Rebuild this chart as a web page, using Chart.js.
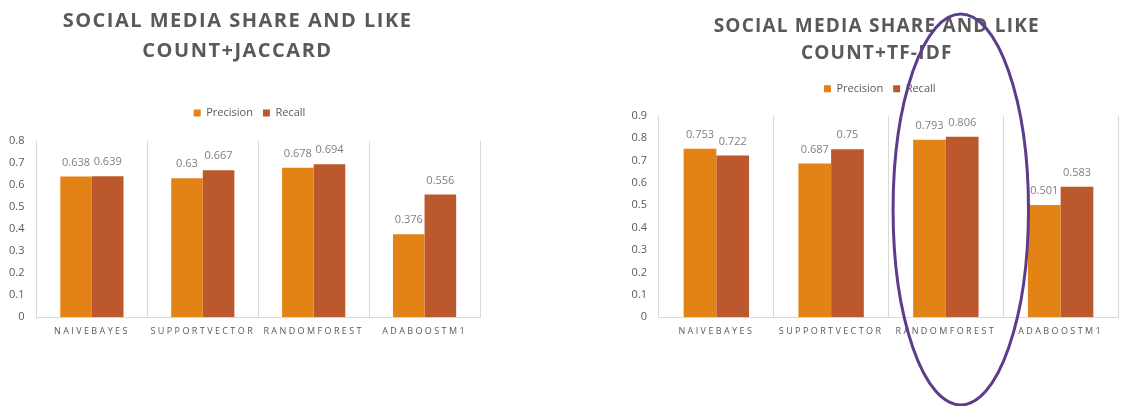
<!DOCTYPE html>
<html>
<head>
<meta charset="utf-8">
<title>Social media share and like count</title>
<script src="https://cdn.jsdelivr.net/npm/chart.js@4.4.1/dist/chart.umd.min.js"></script>
<style>
  html, body { margin: 0; padding: 0; background: #fff; }
  body { width: 1143px; height: 406px; position: relative; overflow: hidden; }
  canvas { position: absolute; top: 0; }
  #chart-jaccard { left: 0; }
  #chart-tfidf { left: 620px; }
</style>
</head>
<body>
<canvas id="chart-jaccard" width="490" height="406"></canvas>
<canvas id="chart-tfidf" width="514" height="406"></canvas>
<script>
var classifiers = ["NAIVEBAYES", "SUPPORTVECTOR", "RANDOMFOREST", "ADABOOSTM1"];

var jaccardPrecision = [0.638, 0.63, 0.678, 0.376];
var jaccardRecall = [0.639, 0.667, 0.694, 0.556];
var jaccardTicks = [0, 0.1, 0.2, 0.3, 0.4, 0.5, 0.6, 0.7, 0.8];

var tfidfPrecision = [0.753, 0.687, 0.793, 0.501];
var tfidfRecall = [0.722, 0.75, 0.806, 0.583];
var tfidfTicks = [0, 0.1, 0.2, 0.3, 0.4, 0.5, 0.6, 0.7, 0.8, 0.9];

var textColor = "#595959";
var fontFamily = "'Open Sans', sans-serif";

/**
 * Writes the value above every bar.
 */
var valueLabels = {
  id: "valueLabels",
  afterDatasetsDraw: function (chart) {
    var ctx = chart.ctx;
    ctx.save();
    ctx.font = "11px " + fontFamily;
    ctx.fillStyle = "#7f7f7f";
    ctx.textAlign = "center";
    ctx.textBaseline = "middle";
    chart.data.datasets.forEach(function (dataset, i) {
      chart.getDatasetMeta(i).data.forEach(function (bar, j) {
        ctx.fillText(String(dataset.data[j]), bar.x, bar.y - 14);
      });
    });
    ctx.restore();
  }
};

/**
 * Wraps a box's draw so it gets letter spacing and a small sideways shift.
 */
function wrapDraw(box, spacing, shift) {
  var draw = box.draw;
  box.draw = function (area) {
    var ctx = this.ctx;
    ctx.save();
    ctx.translate(shift, 0);
    ctx.letterSpacing = spacing + "px";
    draw.call(this, area);
    ctx.restore();
  };
}

/**
 * Excel look: spaced title and category labels, room under the legend.
 */
var excelText = {
  id: "excelText",
  beforeLayout: function (chart, args, opts) {
    if (chart.$excel) return;
    chart.$excel = true;
    wrapDraw(chart.titleBlock, opts.titleSpacing, opts.titleShift);
    wrapDraw(chart.legend, 0, opts.legendShift);

    var legend = chart.legend;
    var fit = legend.fit;
    legend.fit = function () {
      fit.call(this);
      this.height += opts.legendGap;
    };

    var x = chart.scales.x;
    var drawLabels = x.drawLabels;
    x.drawLabels = function (area) {
      this.ctx.save();
      this.ctx.letterSpacing = opts.tickSpacing + "px";
      drawLabels.call(this, area);
      this.ctx.restore();
    };
  }
};

/**
 * Draws the hand-drawn style ellipse round one category.
 */
var circleCategory = {
  id: "circleCategory",
  afterDraw: function (chart, args, opts) {
    if (opts.index === undefined) return;
    var x = chart.scales.x;
    var width = x.width / x.ticks.length;
    var cx = x.getPixelForValue(opts.index) + width * opts.offset;
    var ctx = chart.ctx;
    ctx.save();
    ctx.strokeStyle = opts.color;
    ctx.lineWidth = opts.lineWidth;
    ctx.beginPath();
    ctx.ellipse(cx, (opts.top + opts.bottom) / 2, width * opts.radius, (opts.bottom - opts.top) / 2, 0, 0, Math.PI * 2);
    ctx.stroke();
    ctx.restore();
  }
};

/**
 * Creates one grouped bar chart.
 */
function createBarChart(canvasId, title, precision, recall, ticks, look) {
  return new Chart(document.getElementById(canvasId), {
    type: "bar",
    data: {
      labels: classifiers,
      datasets: [
        { label: "Precision", data: precision, backgroundColor: "#e38215", borderWidth: 0 },
        { label: "Recall", data: recall, backgroundColor: "#bc582e", borderWidth: 0 }
      ]
    },
    options: {
      responsive: false,
      animation: false,
      categoryPercentage: 0.57,
      barPercentage: 1,
      layout: { padding: { left: look.padLeft, right: look.padRight, top: 0, bottom: 69 } },
      plugins: {
        title: {
          display: true,
          text: title,
          color: textColor,
          font: { family: fontFamily, size: look.titleSize, weight: "bold", lineHeight: look.titleLine },
          padding: { top: look.titleTop, bottom: look.titleBottom }
        },
        legend: {
          display: true,
          labels: {
            boxWidth: 7,
            boxHeight: 7,
            padding: 10,
            color: textColor,
            font: { family: fontFamily, size: 11 }
          }
        },
        tooltip: { enabled: false },
        excelText: {
          titleSpacing: look.titleSpacing,
          titleShift: look.titleShift,
          legendShift: look.legendShift,
          legendGap: look.legendGap,
          tickSpacing: 2.4
        },
        circleCategory: look.circle || {}
      },
      scales: {
        x: {
          grid: { display: true, offset: true, color: "#d9d9d9", drawTicks: false },
          border: { display: true, color: "#d9d9d9" },
          ticks: {
            color: textColor,
            font: { family: fontFamily, size: 9 },
            padding: 9,
            maxRotation: 0,
            autoSkip: false
          },
          // chart.js counts the tick padding twice, take one off
          afterFit: function (scale) { scale.height -= 9; }
        },
        y: {
          min: ticks[0],
          max: ticks[ticks.length - 1],
          afterBuildTicks: function (scale) {
            scale.ticks = ticks.map(function (v) { return { value: v }; });
          },
          afterFit: function (scale) { scale.width -= 12; },
          grid: { display: false, drawTicks: false },
          border: { display: false },
          ticks: {
            color: textColor,
            font: { family: fontFamily, size: 11 },
            padding: 12,
            callback: function (value) { return String(value); }
          }
        }
      }
    },
    plugins: [valueLabels, excelText, circleCategory]
  });
}

var jaccardChart = createBarChart("chart-jaccard",
  ["SOCIAL MEDIA SHARE AND LIKE", "COUNT+JACCARD"],
  jaccardPrecision, jaccardRecall, jaccardTicks,
  { padLeft: 9, padRight: 10, titleSize: 20, titleLine: 1.5, titleTop: 6, titleBottom: 31.4,
    titleSpacing: 1.5, titleShift: -7, legendShift: 5, legendGap: 12.4 });

var tfidfChart = createBarChart("chart-tfidf",
  ["SOCIAL MEDIA SHARE AND LIKE", "COUNT+TF-IDF"],
  tfidfPrecision, tfidfRecall, tfidfTicks,
  { padLeft: 11.5, padRight: 16, titleSize: 19, titleLine: 1.42, titleTop: 13, titleBottom: 6.4,
    titleSpacing: 1.2, titleShift: 2, legendShift: 5, legendGap: 11.4,
    circle: { index: 2, offset: 0.13, radius: 0.59, top: 14, bottom: 405, color: "#5e3c8c", lineWidth: 3 } });
</script>
</body>
</html>
